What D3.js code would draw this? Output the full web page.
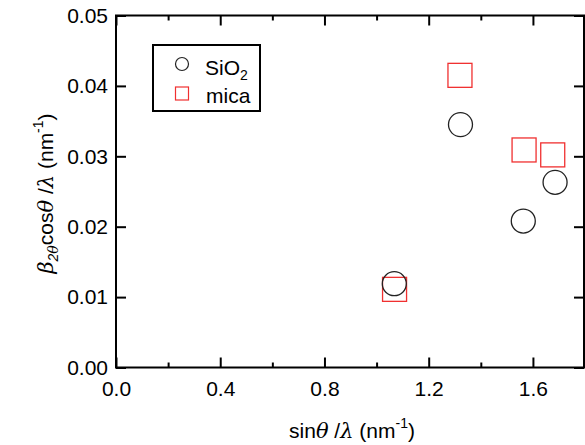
<!DOCTYPE html>
<html><head><meta charset="utf-8">
<script src="https://cdn.jsdelivr.net/npm/d3@7"></script>
<style>body{margin:0;background:#fff}svg{display:block}text{font-family:"Liberation Sans",Arial,sans-serif}</style>
</head><body><svg id="c" width="585" height="445"></svg>
<script>
const sio2X = [1.068, 1.322, 1.563, 1.685];
const sio2Y = [0.0119, 0.0345, 0.0208, 0.0263];
const micaX = [1.069, 1.320, 1.566, 1.676];
const micaY = [0.0111, 0.0415, 0.0309, 0.0302];
const xMajor = [0, 0.4, 0.8, 1.2, 1.6];
const xMinor = [0.2, 0.6, 1.0, 1.4];
const yMajor = [0, 0.01, 0.02, 0.03, 0.04, 0.05];

const svg = d3.select("#c");
const L = 116, R = 584, T = 15.5, B = 367.5;
const FS = 21, SUB = 14;
const x = d3.scaleLinear().domain([0, 1.796]).range([L, R]);
const y = d3.scaleLinear().domain([0, 0.05]).range([B, T]);

svg.append("rect").attr("x", L).attr("y", T).attr("width", R - L).attr("height", B - T)
  .attr("fill", "none").attr("stroke", "#000").attr("stroke-width", 2);

function clean(sel) { sel.select(".domain").remove(); sel.selectAll(".tick line").attr("stroke-width", 2); return sel; }

// bottom axis
const gx = clean(svg.append("g").attr("transform", `translate(0,${B})`)
  .call(d3.axisBottom(x).tickValues(xMajor).tickSize(-10).tickPadding(14).tickFormat(d3.format(".1f"))));
gx.selectAll("text").attr("font-size", FS).attr("fill", "#000");
clean(svg.append("g").attr("transform", `translate(0,${B})`).call(d3.axisBottom(x).tickValues(xMinor).tickSize(-5).tickFormat("")));
// top mirror
clean(svg.append("g").attr("transform", `translate(0,${T})`).call(d3.axisTop(x).tickValues(xMajor).tickSize(-10).tickFormat("")));
clean(svg.append("g").attr("transform", `translate(0,${T})`).call(d3.axisTop(x).tickValues(xMinor).tickSize(-5).tickFormat("")));

// left axis
const gy = clean(svg.append("g").attr("transform", `translate(${L},0)`)
  .call(d3.axisLeft(y).tickValues(yMajor).tickSize(-10).tickPadding(8).tickFormat(d3.format(".2f"))));
gy.selectAll("text").attr("font-size", FS).attr("fill", "#000");
clean(svg.append("g").attr("transform", `translate(${R},0)`).call(d3.axisRight(y).tickValues(yMajor).tickSize(-10).tickFormat("")));

// data
const sio2 = sio2X.map((v, i) => [v, sio2Y[i]]);
const mica = micaX.map((v, i) => [v, micaY[i]]);
svg.append("g").selectAll("rect").data(mica).join("rect")
  .attr("x", d => x(d[0]) - 12).attr("y", d => y(d[1]) - 12)
  .attr("width", 24).attr("height", 24)
  .attr("fill", "none").attr("stroke", "#f03030").attr("stroke-width", 1.3);
svg.append("g").selectAll("circle").data(sio2).join("circle")
  .attr("cx", d => x(d[0])).attr("cy", d => y(d[1])).attr("r", 12)
  .attr("fill", "none").attr("stroke", "#222").attr("stroke-width", 1.3);

// legend
svg.append("rect").attr("x", 153).attr("y", 45).attr("width", 107).attr("height", 66)
  .attr("fill", "#fff").attr("stroke", "#000").attr("stroke-width", 2);
svg.append("circle").attr("cx", 182).attr("cy", 64).attr("r", 6.5)
  .attr("fill", "none").attr("stroke", "#222").attr("stroke-width", 1.2);
svg.append("rect").attr("x", 175.5).attr("y", 87).attr("width", 13).attr("height", 13)
  .attr("fill", "none").attr("stroke", "#f03030").attr("stroke-width", 1.2);
const t1 = svg.append("text").attr("x", 205).attr("y", 75).attr("font-size", FS);
t1.append("tspan").text("SiO");
t1.append("tspan").attr("font-size", SUB).attr("dy", 5).text("2");
svg.append("text").attr("x", 206).attr("y", 103).attr("font-size", FS).text("mica");

// x title
const xt = svg.append("text").attr("x", 352).attr("y", 438).attr("text-anchor", "middle").attr("font-size", FS);
xt.append("tspan").text("sin");
xt.append("tspan").attr("font-style", "italic").attr("font-family", "DejaVu Serif").text("θ");
xt.append("tspan").text(" /");
xt.append("tspan").attr("font-style", "italic").attr("font-family", "DejaVu Serif").text("λ");
xt.append("tspan").text(" (nm");
xt.append("tspan").attr("font-size", SUB).attr("dy", -10).text("-1");
xt.append("tspan").attr("dy", 10).text(")");

// y title
const yt = svg.append("text").attr("transform", `translate(53,${(T + B) / 2 + 2}) rotate(-90)`)
  .attr("text-anchor", "middle").attr("font-size", FS);
yt.append("tspan").attr("font-style", "italic").attr("font-family", "DejaVu Serif").text("β");
yt.append("tspan").attr("font-size", SUB).attr("dy", 5).attr("font-style", "italic").text("2");
yt.append("tspan").attr("font-size", SUB).attr("font-style", "italic").attr("font-family", "DejaVu Serif").text("θ");
yt.append("tspan").attr("dy", -5).text("cos");
yt.append("tspan").attr("font-style", "italic").attr("font-family", "DejaVu Serif").text("θ");
yt.append("tspan").text(" /");
yt.append("tspan").attr("font-style", "italic").attr("font-family", "DejaVu Serif").text("λ");
yt.append("tspan").text(" (nm");
yt.append("tspan").attr("font-size", SUB).attr("dy", -10).text("-1");
yt.append("tspan").attr("dy", 10).text(")");
</script></body></html>
